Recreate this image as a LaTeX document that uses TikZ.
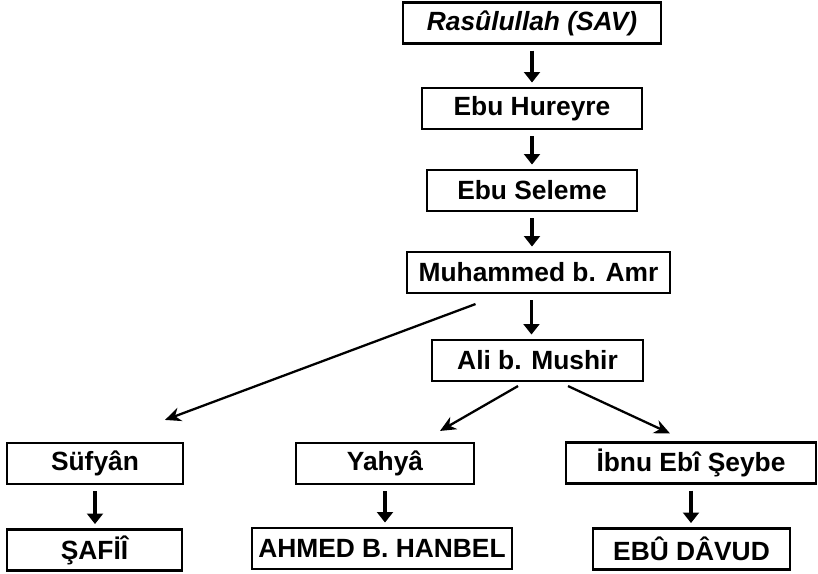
\documentclass[tikz,border=0pt]{standalone}
\usepackage{fontspec}
\setmainfont{Liberation Sans}
\usetikzlibrary{arrows.meta}

\begin{document}
\begin{tikzpicture}[x=0.02cm, y=-0.02cm,
	box/.style={draw, line width=1.2pt, inner sep=0pt, minimum height=0.82cm, font=\fontsize{15}{18}\selectfont\bfseries},
	down/.style={-{Triangle[width=9pt,length=6pt]}, line width=2pt, shorten <=3.5pt, shorten >=2.5pt},
	slant/.style={-{Stealth[width=8pt,length=9pt]}, line width=1.3pt}]
\useasboundingbox (0,0) rectangle (818,574);
\node[box, minimum width=5.16cm] (rasul)    at (532,23)    {\itshape Rasûlullah (SAV)};
\node[box, minimum width=4.40cm] (hureyre)  at (532,108.5) {Ebu Hureyre};
\node[box, minimum width=4.20cm] (seleme)   at (532,190.5) {Ebu Seleme};
\node[box, minimum width=5.26cm] (muhammed) at (538.5,272.5) {Muhammed b. Amr};
\node[box, minimum width=4.22cm] (ali)      at (537.5,360.5) {Ali b. Mushir};
\node[box, minimum width=3.52cm] (sufyan)   at (95,463.5)  {Süfyân};
\node[box, minimum width=3.56cm] (yahya)    at (385,463.5) {Yahyâ};
\node[box, minimum width=5.00cm] (ibnu)     at (691,463)   {İbnu Ebî Şeybe};
\node[box, minimum width=3.50cm] (safii)    at (94.5,550)  {ŞAFİÎ};
\node[box, minimum width=5.20cm] (ahmed)    at (382,548.5) {AHMED B. HANBEL};
\node[box, minimum width=3.94cm] (davud)    at (691.5,549) {EBÛ DÂVUD};
\path[down]
(rasul.south) edge (rasul.south |- hureyre.north)
(hureyre.south) edge (hureyre.south |- seleme.north)
(seleme.south) edge (seleme.south |- muhammed.north)
([xshift=-4pt]muhammed.south) edge ([xshift=-4pt]muhammed.south |- ali.north)
(sufyan.south) edge (sufyan.south |- safii.north)
(yahya.south) edge (yahya.south |- ahmed.north)
(ibnu.south) edge (ibnu.south |- davud.north)
;
\path[slant]
([shift={(-63,10)}]muhammed.south) edge ([shift={(70,-22)}]sufyan.north)
([shift={(-19.5,4)}]ali.south) edge ([shift={(55,-11)}]yahya.north)
([shift={(30.5,4)}]ali.south) edge ([shift={(-21,-8)}]ibnu.north)
;
\end{tikzpicture}
\end{document}
